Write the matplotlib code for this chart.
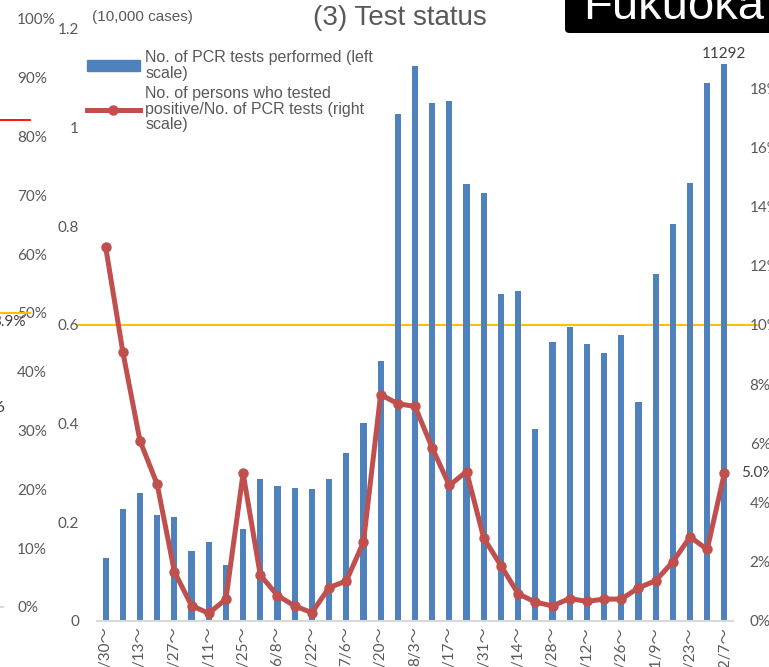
import matplotlib
matplotlib.use("Agg")
import matplotlib.pyplot as plt
from matplotlib.patches import FancyBboxPatch
from matplotlib.ticker import FuncFormatter

# weekly periods (start day of each week)
weeks = ["3/30～", "4/6～", "4/13～", "4/20～", "4/27～", "5/4～", "5/11～", "5/18～",
         "5/25～", "6/1～", "6/8～", "6/15～", "6/22～", "6/29～", "7/6～", "7/13～",
         "7/20～", "7/27～", "8/3～", "8/10～", "8/17～", "8/24～", "8/31～", "9/7～",
         "9/14～", "9/21～", "9/28～", "10/5～", "10/12～", "10/19～", "10/26～", "11/2～",
         "11/9～", "11/16～", "11/23～", "11/30～", "12/7～"]

# number of PCR tests per week
pcr_tests = [1270, 2270, 2590, 2150, 2110, 1410, 1600, 1130, 1860, 2870, 2730, 2700,
             2680, 2870, 3400, 4020, 5270, 10280, 11260, 10500, 10540, 8850, 8670, 6630,
             6690, 3890, 5650, 5950, 5610, 5440, 5790, 4440, 7030, 8050, 8870, 10910, 11292]

# positive rate (%)
pos_rate = [12.65, 9.10, 6.09, 4.62, 1.67, 0.52, 0.26, 0.74, 4.99, 1.55, 0.86, 0.51,
            0.28, 1.13, 1.35, 2.66, 7.65, 7.34, 7.25, 5.85, 4.58, 5.05, 2.80, 1.87,
            0.92, 0.64, 0.51, 0.76, 0.66, 0.74, 0.74, 1.12, 1.36, 2.00, 2.84, 2.42, 5.0]

# right scale of the neighbouring chart (cut at the left edge)
prev_ticks = [0, 10, 20, 30, 40, 50, 60, 70, 80, 90, 100]

W, H = 769, 667
GREY = "#595959"
BLUE = "#4F81BD"
RED = "#C0504D"
YELLOW = "#FFC000"
num_font = ["Lato", "Noto Sans CJK JP", "DejaVu Sans"]
txt_font = ["Liberation Sans", "DejaVu Sans"]

fig = plt.figure(figsize=(W / 100, H / 100), dpi=100)
fig.patch.set_facecolor("white")

def fx(px):
    return px / W

def fy(py):
    return (H - py) / H

# main chart
ax = fig.add_axes([fx(97), fy(621), fx(733) - fx(97), fy(29) - fy(621)])
x = list(range(len(weeks)))
ax.bar(x, [v / 10000 for v in pcr_tests], width=0.36, color=BLUE, zorder=2)
ax.set_xlim(-0.5, len(weeks) - 0.5)
ax.set_ylim(0, 1.2)
ax.set_yticks([0, 0.2, 0.4, 0.6, 0.8, 1.0, 1.2])
ax.yaxis.set_major_formatter(FuncFormatter(lambda v, p: "0" if v == 0 else ("1" if v == 1 else f"{v:.1f}")))
ax.set_xticks(x)
ax.set_xticklabels([w if i % 2 == 0 else "" for i, w in enumerate(weeks)], rotation=90)
for s in ["top", "right", "left"]:
    ax.spines[s].set_visible(False)
ax.spines["bottom"].set_color("#D9D9D9")
ax.spines["bottom"].set_linewidth(1.5)
ax.tick_params(axis="both", length=0, colors=GREY, labelsize=11)
ax.tick_params(axis="y", pad=13)
ax.tick_params(axis="x", pad=4)
for lab in ax.get_xticklabels() + ax.get_yticklabels():
    lab.set_family(num_font)
    lab.set_color(GREY)

# 0.6 reference line
ax.axhline(0.6, xmin=-0.03, xmax=1.038, color=YELLOW, lw=1.5, clip_on=False, zorder=1)

# label for the latest week
ax.text(x[-1], pcr_tests[-1] / 10000 + 0.006, str(pcr_tests[-1]), ha="center", va="bottom",
        fontsize=11, color="#404040", family=num_font)

# positive rate on the right axis
ax2 = ax.twinx()
ax2.plot(x, pos_rate, color=RED, lw=3.6, marker="o", markersize=6.5, zorder=3)
ax2.set_ylim(0, 20)
ax2.set_yticks(range(0, 19, 2))
ax2.yaxis.set_major_formatter(FuncFormatter(lambda v, p: f"{v:.0f}%"))
for s in ["top", "right", "left", "bottom"]:
    ax2.spines[s].set_visible(False)
ax2.tick_params(axis="y", length=0, colors=GREY, labelsize=11, pad=12)
for lab in ax2.get_yticklabels():
    lab.set_family(num_font)
ax2.annotate(f"{pos_rate[-1]:.1f}%", (x[-1], pos_rate[-1]), xytext=(12, 0),
             textcoords="offset points", ha="left", va="center", fontsize=11,
             color="#404040", family=num_font)

# legend
bar_handle = plt.Rectangle((0, 0), 1, 1, color=BLUE)
line_handle = ax2.get_lines()[0]
leg = ax2.legend([bar_handle, line_handle],
                 ["No. of PCR tests performed (left\nscale)",
                  "No. of persons who tested\npositive/No. of PCR tests (right\nscale)"],
                 loc="upper left", bbox_to_anchor=(fx(87), fy(50)), bbox_transform=fig.transFigure,
                 frameon=False, handlelength=3.3, handletextpad=0.35,
                 labelspacing=0.35, borderaxespad=0, borderpad=0,
                 prop={"family": txt_font, "size": 11.5})
for t in leg.get_texts():
    t.set_color(GREY)
    t.set_linespacing(1.05)

# headings
fig.text(fx(400), fy(18), "(3) Test status", ha="center", va="center", fontsize=20,
         color=GREY, family=txt_font)
fig.text(fx(92), fy(17), "(10,000 cases)", ha="left", va="center", fontsize=11,
         color=GREY, family=txt_font)

# prefecture badge
badge = FancyBboxPatch((fx(565), fy(33)), fx(300), fy(-20) - fy(33),
                       boxstyle="round,pad=0,rounding_size=0.006", transform=fig.transFigure,
                       facecolor="black", edgecolor="none", zorder=5)
fig.patches.append(badge)
fig.text(fx(583), fy(19), "Fukuoka", ha="left", va="baseline", fontsize=34,
         color="white", family=txt_font, zorder=6)

# edge of the neighbouring chart
axp = fig.add_axes([0, fy(607), fx(17), fy(19) - fy(607)])
axp.set_xlim(0, 17)
axp.set_ylim(0, 100)
axp.set_yticks(prev_ticks)
axp.yaxis.set_major_formatter(FuncFormatter(lambda v, p: f"{v:.0f}%"))
axp.yaxis.tick_right()
axp.tick_params(axis="y", length=0, pad=0, colors=GREY, labelsize=11)
axp.set_xticks([])
for lab in axp.get_yticklabels():
    lab.set_family(num_font)
for s in axp.spines.values():
    s.set_visible(False)
axp.patch.set_visible(False)
axp.plot([0, 30], [82.8, 82.8], color="red", lw=1.3, clip_on=False)
axp.plot([0, 30], [50, 50], color=YELLOW, lw=1.5, clip_on=False)
axp.plot([0, 3], [0, 0], color="#D9D9D9", lw=1.5, clip_on=False)
axp.text(26, 48.4, "3.9%", ha="right", va="center", fontsize=11, color="#404040", family=num_font)
axp.text(4, 33.9, "6", ha="right", va="center", fontsize=11, color="#404040", family=num_font)

fig.savefig("out.png", dpi=100)
